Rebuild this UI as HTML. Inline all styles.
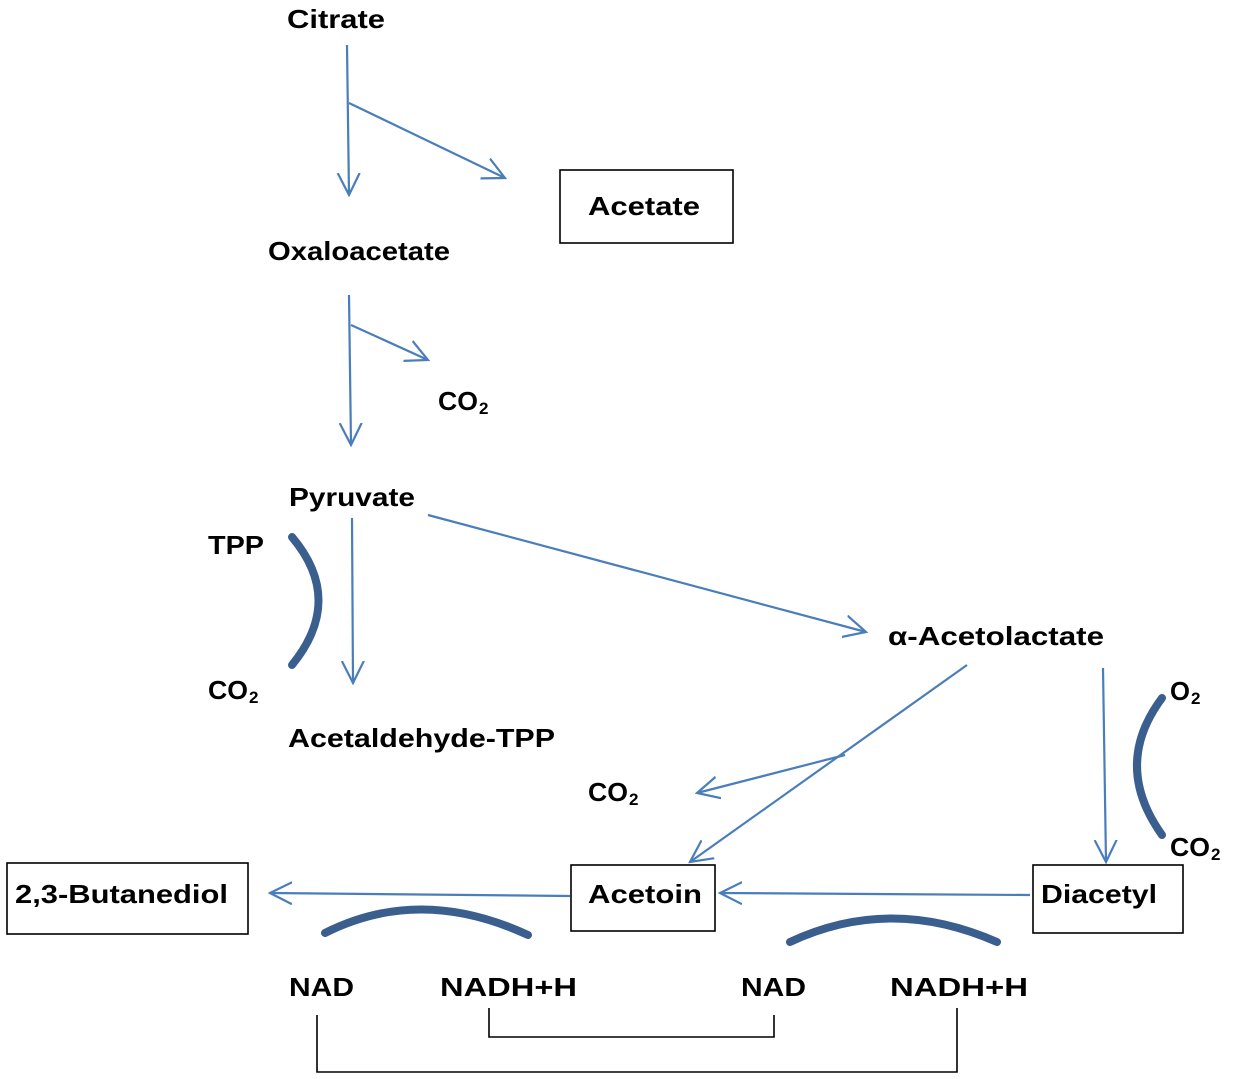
<!DOCTYPE html>
<html><head><meta charset="utf-8"><style>
html,body{margin:0;padding:0;background:#fff;}
svg{display:block}
text{font-family:"Liberation Sans",sans-serif;font-weight:bold;font-size:26px;fill:#000}
</style></head><body>
<svg width="1240" height="1079" viewBox="0 0 1240 1079">
<defs>
<marker id="b" viewBox="0 0 24 24" refX="22" refY="12" markerWidth="24" markerHeight="24" markerUnits="userSpaceOnUse" orient="auto">
<path d="M0,1 L22,12 L0,23" fill="none" stroke="#4a7ebb" stroke-width="2.2"/>
</marker>
</defs>
<g stroke="#4a7ebb" stroke-width="2.2" fill="none">
<line x1="347" y1="45" x2="349" y2="195" marker-end="url(#b)"/>
<line x1="349" y1="103" x2="505" y2="178" marker-end="url(#b)"/>
<line x1="349" y1="295" x2="351" y2="445" marker-end="url(#b)"/>
<line x1="351" y1="325" x2="428" y2="360" marker-end="url(#b)"/>
<line x1="352" y1="518" x2="353" y2="683" marker-end="url(#b)"/>
<line x1="428" y1="515" x2="866" y2="632" marker-end="url(#b)"/>
<line x1="967" y1="665" x2="690" y2="862" marker-end="url(#b)"/>
<line x1="845" y1="755" x2="697" y2="793" marker-end="url(#b)"/>
<line x1="1103" y1="668" x2="1106" y2="862" marker-end="url(#b)"/>
<line x1="1030" y1="895" x2="720" y2="893" marker-end="url(#b)"/>
<line x1="570" y1="896" x2="270" y2="893" marker-end="url(#b)"/>
</g>
<g stroke="#3a5f8f" stroke-width="8" fill="none" stroke-linecap="round">
<path d="M292,537 Q345,600 292,665"/>
<path d="M1162,698 Q1112,765 1162,835"/>
<path d="M325,933 Q420,885 528,935"/>
<path d="M790,942 Q890,895 997,942"/>
</g>
<g stroke="#000" stroke-width="1.6" fill="none">
<rect x="560" y="170" width="173" height="73"/>
<rect x="7" y="863" width="241" height="71"/>
<rect x="571" y="865" width="144" height="66"/>
<rect x="1033" y="865" width="150" height="68"/>
<polyline points="489,1008 489,1037 774,1037 774,1015"/>
<polyline points="317,1015 317,1072 957,1072 957,1008"/>
</g>
<g>
<text x="287" y="28" textLength="98" lengthAdjust="spacingAndGlyphs">Citrate</text>
<text x="588" y="215" textLength="112" lengthAdjust="spacingAndGlyphs">Acetate</text>
<text x="268" y="260" textLength="182" lengthAdjust="spacingAndGlyphs">Oxaloacetate</text>
<text x="438" y="410" textLength="40" lengthAdjust="spacingAndGlyphs">CO</text><text x="479" y="414" style="font-size:17px">2</text>
<text x="289" y="506" textLength="126" lengthAdjust="spacingAndGlyphs">Pyruvate</text>
<text x="208" y="554" textLength="56" lengthAdjust="spacingAndGlyphs">TPP</text>
<text x="208" y="699" textLength="40" lengthAdjust="spacingAndGlyphs">CO</text><text x="249" y="703" style="font-size:17px">2</text>
<text x="288" y="747" textLength="267" lengthAdjust="spacingAndGlyphs">Acetaldehyde-TPP</text>
<text x="888" y="645" textLength="216" lengthAdjust="spacingAndGlyphs">α-Acetolactate</text>
<text x="588" y="801" textLength="40" lengthAdjust="spacingAndGlyphs">CO</text><text x="629" y="805" style="font-size:17px">2</text>
<text x="1170" y="700" textLength="20" lengthAdjust="spacingAndGlyphs">O</text><text x="1191" y="704" style="font-size:17px">2</text>
<text x="1170" y="856" textLength="40" lengthAdjust="spacingAndGlyphs">CO</text><text x="1211" y="860" style="font-size:17px">2</text>
<text x="15" y="903" textLength="213" lengthAdjust="spacingAndGlyphs">2,3-Butanediol</text>
<text x="588" y="903" textLength="114" lengthAdjust="spacingAndGlyphs">Acetoin</text>
<text x="1041" y="903" textLength="116" lengthAdjust="spacingAndGlyphs">Diacetyl</text>
<text x="289" y="996" textLength="65" lengthAdjust="spacingAndGlyphs">NAD</text>
<text x="440" y="996" textLength="137" lengthAdjust="spacingAndGlyphs">NADH+H</text>
<text x="741" y="996" textLength="65" lengthAdjust="spacingAndGlyphs">NAD</text>
<text x="890" y="996" textLength="138" lengthAdjust="spacingAndGlyphs">NADH+H</text>
</g>
</svg>
</body></html>
